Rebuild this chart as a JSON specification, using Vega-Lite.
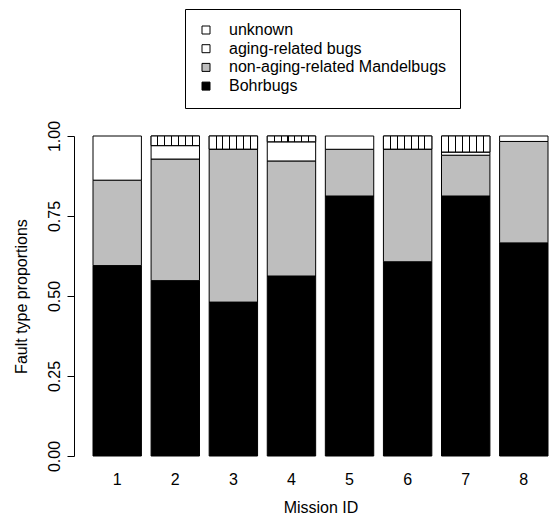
{
  "$schema": "https://vega.github.io/schema/vega-lite/v6.json",
  "width": 455,
  "height": 320,
  "autosize": {"type": "none"},
  "padding": {"left": 93, "top": 136, "right": 2, "bottom": 61},
  "background": "white",
  "config": {
    "view": {"stroke": null},
    "font": "Liberation Sans",
    "axis": {"labelColor": "black", "titleColor": "black", "labelFontSize": 16, "titleFontSize": 16, "titleFontWeight": "normal", "domainColor": "black", "tickColor": "black", "grid": false}
  },
  "data": {
    "values": [
      {"mission": "1", "type": "Bohrbugs", "value": 0.595},
      {"mission": "1", "type": "non-aging-related Mandelbugs", "value": 0.267},
      {"mission": "1", "type": "aging-related bugs", "value": 0.138},
      {"mission": "2", "type": "Bohrbugs", "value": 0.548},
      {"mission": "2", "type": "non-aging-related Mandelbugs", "value": 0.380},
      {"mission": "2", "type": "aging-related bugs", "value": 0.042},
      {"mission": "2", "type": "unknown", "value": 0.030},
      {"mission": "3", "type": "Bohrbugs", "value": 0.481},
      {"mission": "3", "type": "non-aging-related Mandelbugs", "value": 0.478},
      {"mission": "3", "type": "unknown", "value": 0.041},
      {"mission": "4", "type": "Bohrbugs", "value": 0.5625},
      {"mission": "4", "type": "non-aging-related Mandelbugs", "value": 0.3595},
      {"mission": "4", "type": "aging-related bugs", "value": 0.060},
      {"mission": "4", "type": "unknown", "value": 0.018},
      {"mission": "5", "type": "Bohrbugs", "value": 0.8125},
      {"mission": "5", "type": "non-aging-related Mandelbugs", "value": 0.146},
      {"mission": "5", "type": "aging-related bugs", "value": 0.0415},
      {"mission": "6", "type": "Bohrbugs", "value": 0.607},
      {"mission": "6", "type": "non-aging-related Mandelbugs", "value": 0.352},
      {"mission": "6", "type": "unknown", "value": 0.041},
      {"mission": "7", "type": "Bohrbugs", "value": 0.8125},
      {"mission": "7", "type": "non-aging-related Mandelbugs", "value": 0.1275},
      {"mission": "7", "type": "aging-related bugs", "value": 0.010},
      {"mission": "7", "type": "unknown", "value": 0.050},
      {"mission": "8", "type": "Bohrbugs", "value": 0.666},
      {"mission": "8", "type": "non-aging-related Mandelbugs", "value": 0.317},
      {"mission": "8", "type": "aging-related bugs", "value": 0.017}
    ]
  },
  "transform": [
    {"calculate": "indexof(['Bohrbugs','non-aging-related Mandelbugs','aging-related bugs','unknown'], datum.type)", "as": "ord"},
    {"stack": "value", "groupby": ["mission"], "sort": [{"field": "ord", "order": "ascending"}], "as": ["y0", "y1"]}
  ],
  "encoding": {
    "x": {
      "field": "mission", "type": "ordinal",
      "scale": {"paddingInner": 0.1667, "paddingOuter": 0},
      "axis": {"title": "Mission ID", "labelAngle": 0, "domain": false, "ticks": false, "labelPadding": 15, "titlePadding": 12}
    },
    "y": {
      "field": "y0", "type": "quantitative",
      "scale": {"domain": [0, 1], "nice": false, "zero": true},
      "axis": {"title": "Fault type proportions", "values": [0, 0.25, 0.5, 0.75, 1], "format": ".2f", "offset": 19, "tickSize": 7, "labelAngle": 270, "labelAlign": "center", "labelBaseline": "bottom", "labelPadding": 5, "titlePadding": 17}
    },
    "y2": {"field": "y1"}
  },
  "layer": [
    {
      "mark": {"type": "bar", "stroke": "black", "strokeWidth": 1},
      "encoding": {
        "fill": {
          "field": "type", "type": "nominal",
          "scale": {
            "domain": ["unknown", "aging-related bugs", "non-aging-related Mandelbugs", "Bohrbugs"],
            "range": ["white", "white", "#bebebe", "black"]
          },
          "legend": {
            "orient": "none", "legendX": 92, "legendY": -127,
            "title": null,
            "strokeColor": "black", "padding": 13, "fillColor": "white",
            "symbolType": "square", "symbolSize": 64, "symbolStrokeColor": "black", "symbolStrokeWidth": 1, "symbolOpacity": 1,
            "labelFontSize": 16, "labelColor": "black", "labelFont": "Liberation Sans", "labelOffset": 15, "rowPadding": 2.7, "symbolOffset": 0,
            "labelLimit": 0,
            "encode": {
              "symbols": {
                "update": {
                  "stroke": {"value": "black"},
                  "strokeWidth": {"value": 1},
                  "opacity": {"value": 1},
                  "fill": [
                    {"test": "datum.value === 'unknown'", "value": {"gradient": "linear", "x1": 0, "x2": 1, "y1": 0, "y2": 0,
                      "stops": [{"offset": 0, "color": "white"}, {"offset": 0.43, "color": "white"}, {"offset": 0.43, "color": "black"}, {"offset": 0.57, "color": "black"}, {"offset": 0.57, "color": "white"}, {"offset": 1, "color": "white"}]}},
                    {"scale": "fill", "field": "value"}
                  ]
                }
              }
            }
          }
        }
      }
    },
    {
      "transform": [{"filter": "datum.type === 'unknown'"}],
      "mark": {"type": "bar", "stroke": "black", "strokeWidth": 1,
        "fill": {"gradient": "linear", "x1": 0, "x2": 1, "y1": 0, "y2": 0,
          "stops": [
            {"offset": 0, "color": "white"},
            {"offset": 0.132, "color": "white"}, {"offset": 0.132, "color": "black"}, {"offset": 0.153, "color": "black"}, {"offset": 0.153, "color": "white"},
            {"offset": 0.275, "color": "white"}, {"offset": 0.275, "color": "black"}, {"offset": 0.296, "color": "black"}, {"offset": 0.296, "color": "white"},
            {"offset": 0.418, "color": "white"}, {"offset": 0.418, "color": "black"}, {"offset": 0.439, "color": "black"}, {"offset": 0.439, "color": "white"},
            {"offset": 0.561, "color": "white"}, {"offset": 0.561, "color": "black"}, {"offset": 0.582, "color": "black"}, {"offset": 0.582, "color": "white"},
            {"offset": 0.704, "color": "white"}, {"offset": 0.704, "color": "black"}, {"offset": 0.725, "color": "black"}, {"offset": 0.725, "color": "white"},
            {"offset": 0.847, "color": "white"}, {"offset": 0.847, "color": "black"}, {"offset": 0.868, "color": "black"}, {"offset": 0.868, "color": "white"},
            {"offset": 1, "color": "white"}
          ]}
      }
    }
  ]
}
